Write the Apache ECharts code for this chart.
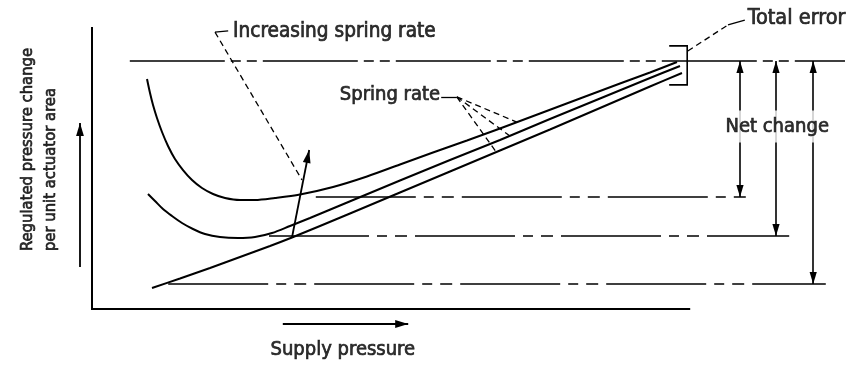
<!DOCTYPE html>
<html>
<head>
<meta charset="utf-8">
<script src="https://cdn.jsdelivr.net/npm/echarts@6/dist/echarts.min.js"></script>
<style>
  html, body { margin: 0; padding: 0; background: #fff; }
  #chart { width: 852px; height: 368px; }
</style>
</head>
<body>
<div id="chart"></div>
<script>
// Regulated pressure change per unit actuator area (y) against supply pressure (x),
// both in arbitrary relative units; origin of the sketch axes is (0, 0).

// Response curves for three spring rates (high → low)
const curveHighRate = [[9.17,76.67],[9.67,72.0],[10.17,68.0],[10.83,63.67],[11.67,59.0],[12.67,54.33],[13.83,50.0],[15.17,46.33],[16.67,43.0],[18.33,40.33],[20.17,38.33],[22.17,37.0],[24.67,36.33],[27.17,36.33],[30.5,37.0],[34.67,38.17],[40.17,40.67],[45.83,44.17],[51.33,48.17],[56.83,52.17],[62.5,56.17],[68.0,60.17],[74.67,65.17],[81.33,70.17],[88.0,75.17],[93.0,78.83],[97.5,82.33]];
const curveMidRate = [[9.33,38.33],[10.5,36.0],[11.83,33.33],[13.33,31.0],[15.0,28.67],[16.83,26.67],[18.83,25.0],[21.33,24.0],[24.33,23.67],[27.17,24.0],[30.0,25.33],[33.0,27.67],[36.33,30.33],[41.33,34.5],[51.33,42.83],[59.67,49.67],[68.0,56.33],[76.33,63.33],[84.67,70.17],[93.0,77.0],[98.0,81.0]];
const curveLowRate = [[10.0,7.0],[14.67,10.17],[19.67,13.67],[24.67,17.33],[29.67,21.0],[33.33,23.83],[38.0,27.67],[43.0,31.83],[51.33,38.83],[59.67,45.83],[68.0,52.83],[76.33,59.83],[84.67,67.0],[93.0,74.17],[98.33,78.67]];

// Final regulated level and the three minimum levels
const finalLevel = 82.7;
const finalLevelSpan = [6.3, 125.5];
const minLevels = [37.3, 24.3, 8.3];
const minLevelStarts = [37.3, 29.5, 12.7];
const minLevelEnds = [109.7, 116.2, 122.3];
const netChangeX = [108, 114, 120.2];

// Sketch axes
const axisXEnd = 99.7;
const axisYEnd = 94;
const X_RANGE = [-15.333, 126.667];
const Y_RANGE = [-19.667, 103];

// Total-error bracket at the convergence point
const bracketX = [96.2, 99.2];
const bracketY = [87.7, 74.7];

// Annotation leaders
const totalErrorLeader = [[99.3, 86.0], [106.0, 94.7]];
const totalErrorTick = [[106.0, 94.7], [108.8, 96.3]];
const increasingLeader = [[20.5, 92.3], [35.0, 43.0]];
const increasingHook = [[22.7, 92.7], [20.5, 92.3]];
const increasingArrow = [[33.33, 23.83], [36.2, 53.0]];
const springRateTick = [[58.2, 70.7], [60.8, 70.7]];
const springRateTargets = [[70.8, 62.3], [69.7, 57.6], [67.3, 52.5]];
const yLabelArrow = [[-2, 14], [-2, 62]];
const xLabelArrow = [[31.8, -5], [52.7, -5]];

// Text labels: [x, y, text, align, size, rotate]
const labels = [
  [23.5, 92.3, 'Increasing spring rate', 'left', 20.6, 0],
  [41.3, 71.3, 'Spring rate', 'left', 20, 0],
  [109.3, 96.8, 'Total error', 'left', 21.5, 0],
  [41.8, -13.5, 'Supply pressure', 'center', 20, 0],
  [-10.67, 19.3, 'Regulated pressure change', 'left', 16.5, 90],
  [-6.9, 19.3, 'per unit actuator area', 'left', 16.5, 90]
];
const netChangeLabel = [114.2, 60.8, 'Net change'];

const INK = '#000';
const FONT = '"DejaVu Sans Condensed", "DejaVu Sans", sans-serif';
// slender filled arrowhead whose tip sits at the symbol centre
const ARROW = 'path://M0,0 L0,0 M12,12 L15.6,24 L8.4,24 Z M24,24 L24,24';

const seg = (coords) => ({ coords });

const chart = echarts.init(document.getElementById('chart'), null, { renderer: 'canvas' });

const curveSeries = (data) => ({
  type: 'line',
  data,
  smooth: 0.3,
  showSymbol: false,
  symbol: 'none',
  clip: false,
  lineStyle: { color: INK, width: 2 },
  z: 3
});

const textStyle = (size) => ({
  color: INK, fontFamily: FONT, fontSize: size,
  textBorderColor: INK, textBorderWidth: 0.7
});

chart.setOption({
  animation: false,
  backgroundColor: '#fff',
  grid: { left: 0, right: 0, top: 0, bottom: 0 },
  xAxis: { type: 'value', min: X_RANGE[0], max: X_RANGE[1], show: false },
  yAxis: { type: 'value', min: Y_RANGE[0], max: Y_RANGE[1], show: false },
  series: [
    // sketch axes
    {
      type: 'lines', coordinateSystem: 'cartesian2d', polyline: true,
      lineStyle: { color: INK, width: 2, opacity: 1 },
      data: [seg([[0, axisYEnd], [0, 0], [axisXEnd, 0]])]
    },
    // final regulated level
    {
      type: 'lines', coordinateSystem: 'cartesian2d',
      lineStyle: { color: INK, width: 1.6, opacity: 1, type: [95, 6, 10, 6, 10, 6] },
      data: [seg([[finalLevelSpan[0], finalLevel], [finalLevelSpan[1], finalLevel]])]
    },
    // minimum levels
    {
      type: 'lines', coordinateSystem: 'cartesian2d',
      lineStyle: { color: INK, width: 1.6, opacity: 1, type: [100, 8, 10, 8, 12, 8] },
      data: minLevels.map((lv, i) => seg([[minLevelStarts[i], lv], [minLevelEnds[i], lv]]))
    },
    curveSeries(curveHighRate),
    curveSeries(curveMidRate),
    curveSeries(curveLowRate),
    // net change arrows
    {
      type: 'lines', coordinateSystem: 'cartesian2d',
      symbol: [ARROW, ARROW], symbolSize: 24,
      lineStyle: { color: INK, width: 1.6, opacity: 1 },
      itemStyle: { color: INK },
      data: minLevels.map((lv, i) => seg([[netChangeX[i], lv], [netChangeX[i], finalLevel]]))
    },
    // total error bracket
    {
      type: 'lines', coordinateSystem: 'cartesian2d', polyline: true,
      lineStyle: { color: INK, width: 1.6, opacity: 1 },
      data: [seg([[bracketX[0], bracketY[0]], [bracketX[1], bracketY[0]], [bracketX[1], bracketY[1]], [bracketX[0], bracketY[1]]])]
    },
    // dashed leaders
    {
      type: 'lines', coordinateSystem: 'cartesian2d',
      lineStyle: { color: INK, width: 1.3, opacity: 1, type: [6, 4] },
      data: [seg(totalErrorLeader), seg(increasingLeader)]
        .concat(springRateTargets.map(p => seg([springRateTick[1], p])))
    },
    // solid leader ticks
    {
      type: 'lines', coordinateSystem: 'cartesian2d',
      lineStyle: { color: INK, width: 1.3, opacity: 1 },
      data: [seg(totalErrorTick), seg(increasingHook), seg(springRateTick)]
    },
    // direction arrows
    {
      type: 'lines', coordinateSystem: 'cartesian2d',
      symbol: ['none', ARROW], symbolSize: 26,
      lineStyle: { color: INK, width: 1.8, opacity: 1 },
      itemStyle: { color: INK },
      data: [seg(increasingArrow), seg(yLabelArrow), seg(xLabelArrow)]
    },
    // text
    {
      type: 'scatter', symbolSize: 0, z: 10,
      data: labels.map(l => ({
        value: [l[0], l[1]],
        label: Object.assign({
          show: true, position: 'inside', formatter: l[2], align: l[3],
          verticalAlign: 'middle', rotate: l[5]
        }, textStyle(l[4]))
      })).concat([{
        value: [netChangeLabel[0], netChangeLabel[1]],
        label: Object.assign({
          show: true, position: 'inside', formatter: netChangeLabel[2], align: 'center',
          verticalAlign: 'middle', backgroundColor: '#fff', padding: [6, 2]
        }, textStyle(20))
      }])
    }
  ]
});
</script>
</body>
</html>
